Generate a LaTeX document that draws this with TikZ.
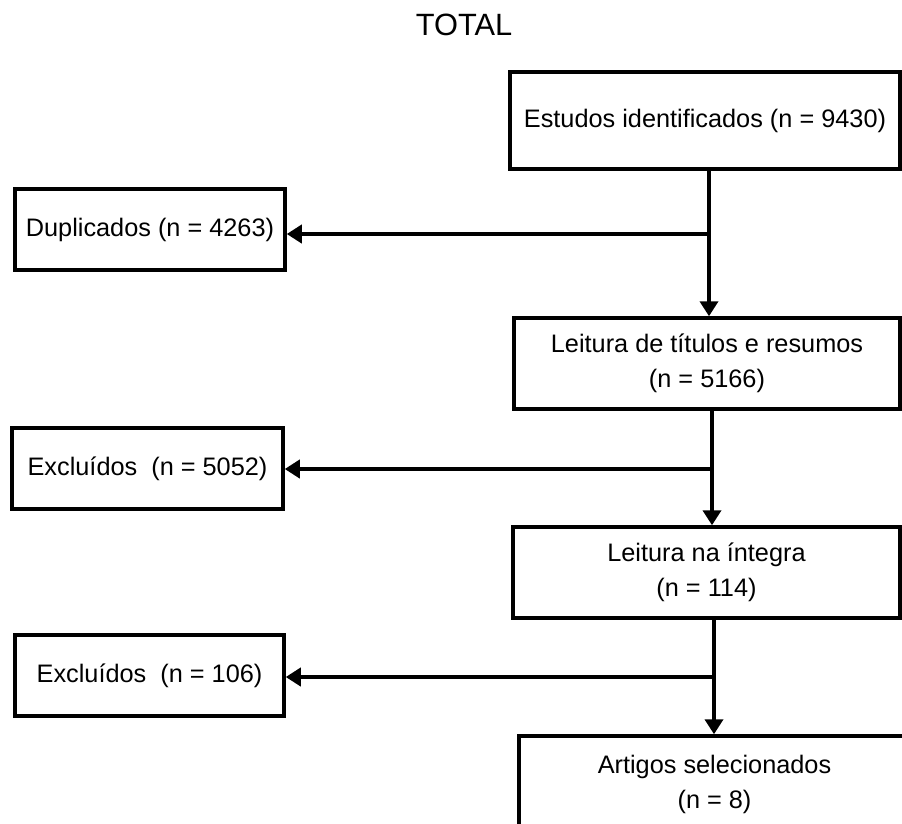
\documentclass[tikz,border=0pt]{standalone}
\usepackage{fontspec}
\setmainfont{Liberation Sans}
\usetikzlibrary{arrows.meta}
\begin{document}
\begin{tikzpicture}[x=1pt,y=1pt,
  box/.style={draw, line width=3.5pt, rectangle, inner sep=0pt, align=center, font=\fontsize{25.3}{35}\selectfont},
  arr/.style={line width=4pt, -{Triangle[width=18pt,length=15pt]}},
  conn/.style={line width=4pt}]
\useasboundingbox (0,0) rectangle (902,-823);
\clip (0,0) rectangle (902,-823);
\node[font=\fontsize{30.8}{36}\selectfont] (title) at (464,-25) {TOTAL};
\node[box, minimum width=390pt, minimum height=97pt] (b1) at (705,-120.5) {Estudos identificados (n = 9430)};
\node[box, minimum width=270pt, minimum height=81pt] (dup) at (150,-229.5) {Duplicados (n = 4263)};
\node[box, minimum width=386pt, minimum height=91pt] (b2) at (707,-363.5) {Leitura de títulos e resumos\\(n = 5166)};
\node[box, minimum width=271pt, minimum height=81pt] (ex1) at (147.5,-468.5) {Excluídos~~(n = 5052)};
\node[box, minimum width=387pt, minimum height=91pt] (b3) at (706.5,-572.5) {Leitura na íntegra\\(n = 114)};
\node[box, minimum width=269pt, minimum height=81pt] (ex2) at (149.5,-675.5) {Excluídos~~(n = 106)};
\node[box, minimum width=391pt, minimum height=96pt] (b4) at (714.5,-784) {Artigos selecionados\\(n = 8)};
\coordinate (j1) at (709,-234);
\coordinate (j2) at (712,-469);
\coordinate (j3) at (714,-677);
\draw[arr] (b1.south -| j1) -- (b2.north -| j1);
\draw[arr] (j1) -- (dup.east |- j1);
\draw[arr] (b2.south -| j2) -- (b3.north -| j2);
\draw[arr] (j2) -- (ex1.east |- j2);
\draw[arr] (b3.south -| j3) -- (b4.north -| j3);
\draw[arr] (j3) -- (ex2.east |- j3);
\end{tikzpicture}
\end{document}
